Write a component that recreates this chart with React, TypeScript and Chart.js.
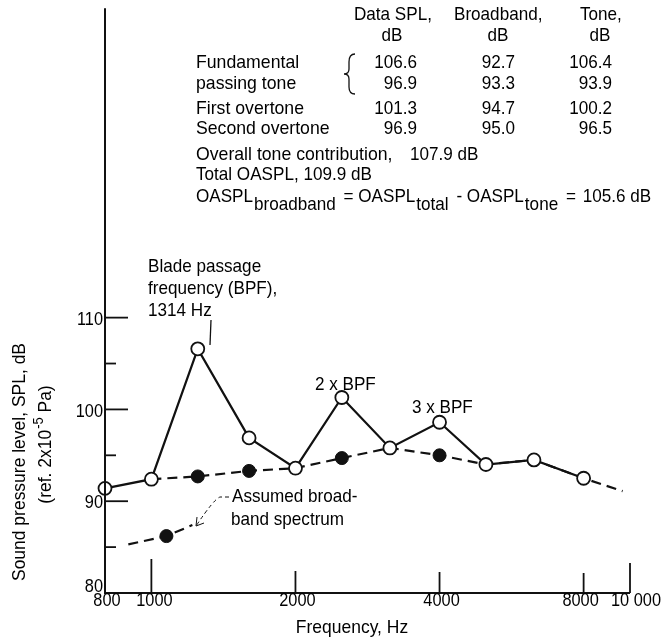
import React, { useEffect, useRef } from "react";
import { Chart, registerables } from "chart.js";

Chart.register(...registerables);

// ---- data ----
const freqs = [800, 1000, 1250, 1600, 2000, 2500, 3150, 4000, 5000, 6300, 8000];
const dataSpl = [91.4, 92.4, 106.6, 96.9, 93.6, 101.3, 95.8, 98.6, 94.0, 94.5, 92.5];

const broadbandFreqs = [1000, 1250, 1600, 2000, 2500, 3150, 4000, 5000, 6300, 8000, 9650];
const broadbandSpl = [92.4, 92.7, 93.3, 93.6, 94.7, 95.8, 95.0, 94.0, 94.5, 92.5, 91.1];
const broadbandMarked = [false, true, true, false, true, false, true, false, false, false, false];

const assumedFreqs = [895, 1075, 1218];
const assumedSpl = [85.3, 86.2, 87.4];
const assumedMarked = [false, true, false];

const yMajorTicks = [80, 90, 100, 110];
const yMinorTicks = [85, 95, 105];
const xTickValues = [800, 1000, 2000, 4000, 8000, 10000];
const xTickLabels = ["800", "1000", "2000", "4000", "8000", "10 000"];
const xTickLengths = [0, 34, 22, 21, 20, 30];

const headerLine1 = ["Data SPL,", "Broadband,", "Tone,"];
const headerLine2 = ["dB", "dB", "dB"];
const rowNames = ["Fundamental", "passing tone", "First overtone", "Second overtone"];
const dataCol = ["106.6", "96.9", "101.3", "96.9"];
const broadbandCol = ["92.7", "93.3", "94.7", "95.0"];
const toneCol = ["106.4", "93.9", "100.2", "96.5"];

const FONT = '"Liberation Sans", Arial, sans-serif';

function txt(ctx: CanvasRenderingContext2D, s: string, x: number, y: number, align = "left", size = 19, sx = 0.9) {
  ctx.save();
  ctx.font = `${size}px ${FONT}`;
  const w = ctx.measureText(s).width * sx;
  let x0 = x;
  if (align === "center") x0 = x - w / 2;
  else if (align === "right") x0 = x - w;
  ctx.translate(x0, y);
  ctx.scale(sx, 1);
  ctx.textAlign = "left";
  ctx.textBaseline = "middle";
  ctx.fillStyle = "#000";
  ctx.fillText(s, 0, 0);
  ctx.restore();
  return w;
}

function measure(ctx: CanvasRenderingContext2D, s: string, size = 19, sx = 0.9) {
  ctx.save();
  ctx.font = `${size}px ${FONT}`;
  const w = ctx.measureText(s).width * sx;
  ctx.restore();
  return w;
}

const decorPlugin = {
  id: "decor",
  afterDraw(chart: any) {
    const ctx: CanvasRenderingContext2D = chart.ctx;
    const xs = chart.scales.x;
    const ys = chart.scales.y;
    const ca = chart.chartArea;
    ctx.save();
    ctx.strokeStyle = "#111";
    ctx.fillStyle = "#111";
    ctx.lineCap = "butt";

    // axes
    ctx.lineWidth = 2;
    ctx.beginPath();
    ctx.moveTo(ca.left, ca.top);
    ctx.lineTo(ca.left, ca.bottom);
    ctx.lineTo(ca.right, ca.bottom);
    ctx.stroke();

    // y ticks (inward)
    ctx.lineWidth = 1.8;
    yMajorTicks.forEach((v) => {
      const py = ys.getPixelForValue(v);
      if (v !== 80) {
        ctx.beginPath();
        ctx.moveTo(ca.left, py);
        ctx.lineTo(ca.left + 23, py);
        ctx.stroke();
      }
      txt(ctx, String(v), ca.left - 2, py + (v === 80 ? -6 : 2), "right", 19, 0.86);
    });
    yMinorTicks.forEach((v) => {
      const py = ys.getPixelForValue(v);
      ctx.beginPath();
      ctx.moveTo(ca.left, py);
      ctx.lineTo(ca.left + 11, py);
      ctx.stroke();
    });

    // x ticks (upward)
    xTickValues.forEach((v, i) => {
      const px = xs.getPixelForValue(v);
      if (xTickLengths[i] > 0) {
        ctx.beginPath();
        ctx.moveTo(px, ca.bottom);
        ctx.lineTo(px, ca.bottom - xTickLengths[i]);
        ctx.stroke();
      }
      txt(ctx, xTickLabels[i], px + (i === 5 ? 6 : i === 4 ? -3 : i === 1 ? 3 : 2), ca.bottom + 8, "center", 19, 0.86);
    });

    // axis titles
    txt(ctx, "Frequency, Hz", 352, 628, "center", 19, 0.92);

    ctx.save();
    ctx.translate(20, 462);
    ctx.rotate(-Math.PI / 2);
    txt(ctx, "Sound pressure level, SPL, dB", 0, 0, "center", 19, 0.92);
    ctx.restore();

    ctx.save();
    ctx.translate(46, 445);
    ctx.rotate(-Math.PI / 2);
    {
      const a = "(ref. 2x10";
      const sup = "-5";
      const b = " Pa)";
      const wa = measure(ctx, a, 19, 0.92);
      const ws = measure(ctx, sup, 14, 0.92);
      const wb = measure(ctx, b, 19, 0.92);
      let x0 = -(wa + ws + wb) / 2;
      txt(ctx, a, x0, 0, "left", 19, 0.92);
      txt(ctx, sup, x0 + wa + 1, -7, "left", 14, 0.92);
      txt(ctx, b, x0 + wa + ws + 1, 0, "left", 19, 0.92);
    }
    ctx.restore();

    // table
    const col1Left = 354, col2Left = 454, col3Left = 580;
    const col1Right = 417, col2Right = 515, col3Right = 612;
    txt(ctx, headerLine1[0], col1Left, 15);
    txt(ctx, headerLine1[1], col2Left, 15);
    txt(ctx, headerLine1[2], col3Left, 15);
    txt(ctx, headerLine2[0], 392, 36, "center");
    txt(ctx, headerLine2[1], 498, 36, "center");
    txt(ctx, headerLine2[2], 600, 36, "center");
    const rowY = [63, 84, 109, 129];
    rowNames.forEach((n, i) => {
      txt(ctx, n, 196, rowY[i], "left", 19, 0.93);
      txt(ctx, dataCol[i], col1Right, rowY[i], "right");
      txt(ctx, broadbandCol[i], col2Right, rowY[i], "right");
      txt(ctx, toneCol[i], col3Right, rowY[i], "right");
    });
    // brace
    ctx.lineWidth = 1.3;
    ctx.beginPath();
    ctx.moveTo(355, 54);
    ctx.quadraticCurveTo(349, 54, 349, 62);
    ctx.lineTo(349, 69);
    ctx.quadraticCurveTo(349, 74, 344, 74);
    ctx.quadraticCurveTo(349, 74, 349, 79);
    ctx.lineTo(349, 87);
    ctx.quadraticCurveTo(349, 94, 355, 94);
    ctx.stroke();

    txt(ctx, "Overall tone contribution,", 196, 155, "left", 19, 0.93);
    txt(ctx, "107.9 dB", 410, 155);
    txt(ctx, "Total OASPL, 109.9 dB", 196, 175);
    {
      const y = 197;
      const sub = 8;
      const gap = 3;
      let x = 196;
      x += txt(ctx, "OASPL", x, y) + 1;
      x += txt(ctx, "broadband", x, y + sub) + gap;
      x += txt(ctx, " = OASPL", x, y) + 1;
      x += txt(ctx, "total", x, y + sub) + gap;
      x += txt(ctx, " - OASPL", x, y) + 1;
      x += txt(ctx, "tone", x, y + sub) + gap;
      x += txt(ctx, " =", x, y);
      txt(ctx, " 105.6 dB", x + 2, y);
    }

    // annotations
    txt(ctx, "Blade passage", 148, 267);
    txt(ctx, "frequency (BPF),", 148, 289);
    txt(ctx, "1314 Hz", 148, 311);
    ctx.lineWidth = 1.3;
    ctx.beginPath();
    ctx.moveTo(211, 320);
    ctx.lineTo(210, 345);
    ctx.stroke();

    txt(ctx, "2 x BPF", 315, 385);
    txt(ctx, "3 x BPF", 412, 408);

    txt(ctx, "Assumed broad-", 232, 497);
    txt(ctx, "band spectrum", 231, 520);
    // dashed leader with arrow
    ctx.lineWidth = 1;
    ctx.setLineDash([4, 3]);
    ctx.beginPath();
    ctx.moveTo(229, 497);
    ctx.lineTo(220, 497);
    ctx.quadraticCurveTo(214, 499, 196, 526);
    ctx.stroke();
    ctx.setLineDash([]);
    ctx.beginPath();
    ctx.moveTo(196, 526);
    ctx.lineTo(197, 517);
    ctx.moveTo(196, 526);
    ctx.lineTo(204, 523);
    ctx.stroke();

    ctx.restore();
  },
};

export default function App() {
  const ref = useRef<HTMLCanvasElement | null>(null);
  useEffect(() => {
    if (!ref.current) return;
    const chart = new Chart(ref.current, {
      type: "line",
      data: {
        datasets: [
          {
            label: "Data SPL",
            data: freqs.map((f, i) => ({ x: f, y: dataSpl[i] })),
            borderColor: "#111",
            borderWidth: 2.2,
            tension: 0,
            pointRadius: 6.5,
            pointBorderWidth: 1.8,
            pointBackgroundColor: "#fff",
            pointBorderColor: "#111",
            clip: false,
          } as any,
          {
            label: "Broadband",
            data: broadbandFreqs.map((f, i) => ({ x: f, y: broadbandSpl[i] })),
            borderColor: "#111",
            borderWidth: 2.2,
            borderDash: [10, 6],
            tension: 0,
            pointRadius: broadbandMarked.map((m) => (m ? 6.5 : 0)),
            pointBorderWidth: 1,
            pointBackgroundColor: "#111",
            pointBorderColor: "#111",
            clip: false,
          } as any,
          {
            label: "Assumed broadband spectrum",
            data: assumedFreqs.map((f, i) => ({ x: f, y: assumedSpl[i] })),
            borderColor: "#111",
            borderWidth: 2.2,
            borderDash: [10, 6],
            tension: 0,
            pointRadius: assumedMarked.map((m) => (m ? 6.5 : 0)),
            pointBorderWidth: 1,
            pointBackgroundColor: "#111",
            pointBorderColor: "#111",
            clip: false,
          } as any,
        ],
      },
      options: {
        responsive: false,
        animation: false,
        layout: { padding: { left: 105, right: 35, top: 7, bottom: 48 } },
        plugins: { legend: { display: false }, tooltip: { enabled: false }, title: { display: false } },
        scales: {
          x: { type: "logarithmic", min: 800, max: 10000, display: false },
          y: { type: "linear", min: 80, max: 143.7, display: false },
        },
      },
      plugins: [decorPlugin],
    });
    return () => chart.destroy();
  }, []);
  return (
    <div style={{ position: "fixed", left: 0, top: 0, width: 665, height: 641, background: "#fff" }}>
      <canvas ref={ref} width={665} height={641} style={{ display: "block", width: 665, height: 641 }} />
    </div>
  );
}
